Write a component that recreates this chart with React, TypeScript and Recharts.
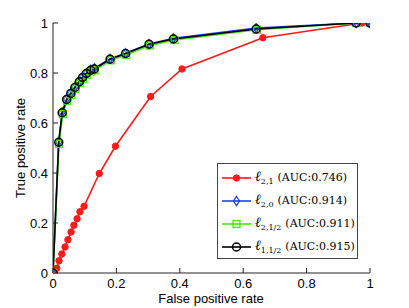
import { Line, LineChart, XAxis, YAxis } from "recharts"

const xTicks = [0, 0.2, 0.4, 0.6, 0.8, 1]
const yTicks = [0, 0.2, 0.4, 0.6, 0.8, 1]

// l_{2,1}
const redFpr = [0, 0.012, 0.019, 0.028, 0.038, 0.047, 0.057, 0.066, 0.076, 0.085, 0.098, 0.146, 0.197, 0.308, 0.407, 0.662, 0.975, 1]
const redTpr = [0, 0.019, 0.049, 0.076, 0.104, 0.133, 0.164, 0.191, 0.217, 0.245, 0.267, 0.398, 0.507, 0.706, 0.816, 0.941, 1, 1]

// l_{2,0}
const blueFpr = [0, 0.018, 0.029, 0.043, 0.056, 0.069, 0.083, 0.093, 0.105, 0.119, 0.131, 0.180, 0.229, 0.303, 0.380, 0.641, 0.957, 1]
const blueTpr = [0, 0.524, 0.643, 0.695, 0.719, 0.743, 0.766, 0.783, 0.799, 0.813, 0.819, 0.857, 0.879, 0.916, 0.939, 0.980, 1, 1]

// l_{2,1/2}
const greenFpr = [0, 0.019, 0.031, 0.045, 0.058, 0.071, 0.085, 0.095, 0.107, 0.121, 0.132, 0.182, 0.231, 0.305, 0.383, 0.643, 0.957, 1]
const greenTpr = [0, 0.517, 0.636, 0.689, 0.713, 0.737, 0.760, 0.777, 0.793, 0.806, 0.811, 0.851, 0.873, 0.910, 0.932, 0.973, 1, 1]

// l_{1,1/2}
const blackFpr = [0, 0.018, 0.029, 0.043, 0.056, 0.069, 0.083, 0.093, 0.105, 0.119, 0.130, 0.180, 0.229, 0.303, 0.380, 0.641, 0.956, 1]
const blackTpr = [0, 0.523, 0.641, 0.694, 0.718, 0.742, 0.765, 0.782, 0.798, 0.811, 0.816, 0.855, 0.878, 0.915, 0.936, 0.976, 1, 1]

const seriesSubs = ["2,1", "2,0", "2,1/2", "1,1/2"]
const seriesAuc = ["0.746", "0.914", "0.911", "0.915"]
const seriesColors = ["#ff1a1a", "#1f3fff", "#44ee00", "#000000"]
const markerKinds = ["dot", "diamond", "square", "circle"]

const toPoints = (xs: number[], ys: number[]) => xs.map((x, i) => ({ x, y: ys[i] }))

const seriesData = [
  toPoints(redFpr, redTpr),
  toPoints(blueFpr, blueTpr),
  toPoints(greenFpr, greenTpr),
  toPoints(blackFpr, blackTpr),
]

function Marker({ kind, cx, cy, color }: { kind: string; cx: number; cy: number; color: string }) {
  if (kind === "dot") return <circle cx={cx} cy={cy} r={3.2} fill={color} stroke={color} />
  if (kind === "diamond")
    return (
      <path
        d={`M${cx},${cy - 4.5}L${cx + 3},${cy}L${cx},${cy + 4.5}L${cx - 3},${cy}Z`}
        fill="none"
        stroke={color}
        strokeWidth={1.3}
      />
    )
  if (kind === "square")
    return <rect x={cx - 3.5} y={cy - 3.5} width={7} height={7} fill="none" stroke={color} strokeWidth={1.3} />
  return <circle cx={cx} cy={cy} r={4} fill="none" stroke={color} strokeWidth={1.5} />
}

const tickFont = { fontFamily: "'Liberation Sans', Arial, sans-serif", fontSize: 13, fill: "#000" }

export default function App() {
  return (
    <div style={{ position: "absolute", left: 0, top: 0, width: 409, height: 308, background: "#fff" }}>
      <LineChart width={409} height={308} margin={{ top: 23, right: 39, bottom: 0, left: 13 }}>
        <XAxis
          xAxisId="bottom"
          type="number"
          dataKey="x"
          domain={[0, 1]}
          ticks={xTicks}
          tickSize={-5}
          tickMargin={11}
          height={35}
          stroke="#222"
          tick={tickFont}
          tickFormatter={(v: number) => String(v)}
          allowDataOverflow
        />
        <XAxis
          xAxisId="top"
          orientation="top"
          type="number"
          dataKey="x"
          domain={[0, 1]}
          ticks={xTicks}
          tickSize={-5}
          height={0}
          stroke="#222"
          tickFormatter={() => ""}
        />
        <YAxis
          yAxisId="left"
          type="number"
          domain={[0, 1]}
          ticks={yTicks}
          tickSize={-5}
          tickMargin={10}
          width={40}
          stroke="#222"
          tick={tickFont}
          tickFormatter={(v: number) => String(v)}
          allowDataOverflow
        />
        <YAxis
          yAxisId="right"
          orientation="right"
          type="number"
          domain={[0, 1]}
          ticks={yTicks}
          tickSize={-5}
          width={0}
          stroke="#222"
          tickFormatter={() => ""}
        />
        {seriesData.map((pts, s) => (
          <Line
            key={s}
            xAxisId="bottom"
            yAxisId="left"
            data={pts}
            dataKey="y"
            type="linear"
            stroke={seriesColors[s]}
            strokeWidth={1.6}
            isAnimationActive={false}
            dot={(p: any) => (
              <Marker key={`${s}-${p.index}`} kind={markerKinds[s]} cx={p.cx} cy={p.cy} color={seriesColors[s]} />
            )}
            activeDot={false}
          />
        ))}
      </LineChart>

      <div
        style={{
          position: "absolute",
          left: 20,
          top: 148,
          transform: "translate(-50%, -50%) rotate(-90deg)",
          fontFamily: "'Liberation Sans', Arial, sans-serif",
          fontSize: 13,
          whiteSpace: "nowrap",
        }}
      >
        True positive rate
      </div>
      <div
        style={{
          position: "absolute",
          left: 211,
          top: 299,
          transform: "translate(-50%, -50%)",
          fontFamily: "'Liberation Sans', Arial, sans-serif",
          fontSize: 13,
          lineHeight: "14px",
          whiteSpace: "nowrap",
        }}
      >
        False positive rate
      </div>

      <div
        style={{
          position: "absolute",
          left: 217,
          top: 163,
          width: 139,
          height: 94,
          border: "1px solid #444",
          background: "#fff",
          fontFamily: "'DejaVu Serif', 'Liberation Serif', serif",
          fontSize: 11,
        }}
      >
        {seriesSubs.map((sub, s) => (
          <div
            key={s}
            style={{ position: "absolute", left: 0, top: 5 + s * 23, height: 18, display: "flex", alignItems: "center" }}
          >
            <svg width={33} height={18} style={{ marginLeft: 4 }}>
              <line x1={0} y1={9} x2={29} y2={9} stroke={seriesColors[s]} strokeWidth={1.6} />
              <Marker kind={markerKinds[s]} cx={14.5} cy={9} color={seriesColors[s]} />
            </svg>
            <span style={{ whiteSpace: "nowrap" }}>
              <i style={{ fontFamily: "'Liberation Serif', serif", fontSize: 14 }}>ℓ</i>
              <sub style={{ fontSize: 8, fontStyle: "normal" }}>{sub}</sub>
              <span style={{ marginLeft: 4 }}>(AUC:{seriesAuc[s]})</span>
            </span>
          </div>
        ))}
      </div>
    </div>
  )
}
